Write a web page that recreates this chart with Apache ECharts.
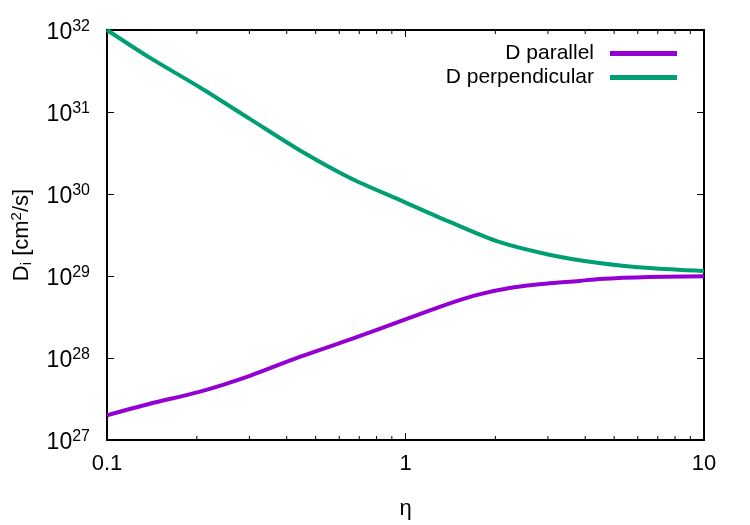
<!DOCTYPE html>
<html>
<head>
<meta charset="utf-8">
<script src="https://cdn.jsdelivr.net/npm/echarts@6/dist/echarts.min.js"></script>
</head>
<body style="margin:0;background:#fff;">
<div id="main" style="width:750px;height:525px;"></div>
<script type="text/javascript">
// curves
var etaPar = [0.1, 0.139, 0.205, 0.301, 0.442, 0.65, 1.031, 1.368, 1.768, 2.285, 2.955, 3.82, 4.45, 6.55, 10];
var dParallel = [2.0e27, 2.77e27, 3.89e27, 6.07e27, 1.03e28, 1.68e28, 3.08e28, 4.48e28, 5.96e28, 7.23e28, 8.07e28, 8.71e28, 9.2e28, 9.73e28, 9.93e28];
var etaPerp = [0.1, 0.139, 0.205, 0.301, 0.442, 0.65, 0.955, 1.4, 2.06, 3.03, 4.45, 6.55, 10];
var dPerp = [1.0e32, 4.6e31, 1.99e31, 8.24e30, 3.42e30, 1.58e30, 8.47e29, 4.6e29, 2.6e29, 1.82e29, 1.44e29, 1.25e29, 1.15e29];
var seriesNames = ['D parallel', 'D perpendicular'];
// minor ticks of the log x axis
var minorEta = [0.2, 0.3, 0.4, 0.5, 0.6, 0.7, 0.8, 0.9, 2, 3, 4, 5, 6, 7, 8, 9];

var font = 'Liberation Sans, Arial, sans-serif';
var yMin = 1e27, yMax = 1e32;

function pairs(xs, ys) {
    return xs.map(function (x, i) { return [x, ys[i]]; });
}

var myChart = echarts.init(document.getElementById('main'));
var axisLine = { show: true, lineStyle: { color: '#000', width: 2 } };
var tick = { inside: true, length: 7, lineStyle: { color: '#000', width: 1 } };
var option = {
    animation: false,
    textStyle: { fontFamily: font },
    grid: { left: 107, right: 46, top: 30, bottom: 80 },
    legend: {
        orient: 'vertical',
        right: 68,
        top: 38,
        align: 'right',
        itemWidth: 67,
        itemHeight: 5,
        itemGap: 3,
        icon: 'rect',
        textStyle: { fontSize: 21, color: '#000', fontFamily: font, padding: [0, 11, 0, 0] },
        data: seriesNames
    },
    xAxis: [{
        type: 'log', min: 0.1, max: 10, logBase: 10,
        name: 'η', nameLocation: 'middle', nameGap: 58,
        nameTextStyle: { fontSize: 22, color: '#000', fontFamily: font },
        axisLine: axisLine,
        axisTick: tick,
        axisLabel: { fontSize: 22, color: '#000', margin: 13, fontFamily: font },
        splitLine: { show: false }
    }, {
        type: 'log', min: 0.1, max: 10, position: 'top',
        axisLine: axisLine,
        axisTick: tick,
        axisLabel: { show: false },
        splitLine: { show: false }
    }],
    yAxis: [{
        type: 'log', min: yMin, max: yMax,
        name: 'D{sub|i} [cm{sup|2}/s]', nameLocation: 'middle', nameRotate: 90, nameGap: 72,
        nameTextStyle: {
            fontSize: 22, color: '#000', fontFamily: font,
            rich: {
                sub: { fontSize: 15, color: '#000', fontFamily: font, verticalAlign: 'top', padding: [10, 0, 0, 0] },
                sup: { fontSize: 15, color: '#000', fontFamily: font, verticalAlign: 'bottom', padding: [0, 0, 11, 0] }
            }
        },
        axisLine: axisLine,
        axisTick: tick,
        axisLabel: {
            fontSize: 23, color: '#000', margin: 17, fontFamily: font,
            padding: [6, 0, 0, 0],
            formatter: function (v) { return '10{sup|' + Math.round(Math.log10(v)) + '}'; },
            rich: {
                sup: { fontSize: 16, color: '#000', fontFamily: font, verticalAlign: 'bottom', padding: [0, 0, 13, 0] }
            }
        },
        splitLine: { show: false }
    }, {
        type: 'log', min: yMin, max: yMax, position: 'right',
        axisLine: axisLine,
        axisTick: tick,
        axisLabel: { show: false },
        splitLine: { show: false }
    }],
    series: [{
        name: seriesNames[0], type: 'line', smooth: 0.3, showSymbol: false,
        color: '#9400d3', lineStyle: { width: 4 },
        data: pairs(etaPar, dParallel)
    }, {
        name: seriesNames[1], type: 'line', smooth: 0.3, showSymbol: false,
        color: '#009e73', lineStyle: { width: 4 },
        data: pairs(etaPerp, dPerp)
    }, {
        name: 'minor ticks', type: 'custom', silent: true, clip: false,
        data: minorEta.map(function (e) { return [e, yMin]; }),
        renderItem: function (params, api) {
            var b = api.coord([api.value(0), yMin]);
            var t = api.coord([api.value(0), yMax]);
            var st = { stroke: '#000', lineWidth: 1 };
            return {
                type: 'group',
                children: [
                    { type: 'line', shape: { x1: b[0], y1: b[1], x2: b[0], y2: b[1] - 4 }, style: st },
                    { type: 'line', shape: { x1: t[0], y1: t[1], x2: t[0], y2: t[1] + 4 }, style: st }
                ]
            };
        }
    }]
};
myChart.setOption(option);
</script>
</body>
</html>
